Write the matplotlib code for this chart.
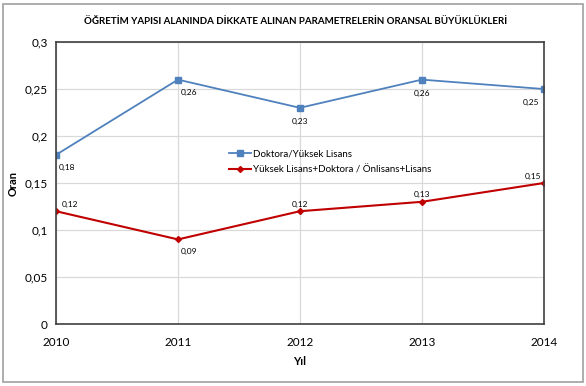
import matplotlib
matplotlib.use("Agg")
import matplotlib.pyplot as plt
from matplotlib.ticker import FuncFormatter, MultipleLocator
from matplotlib.patches import Rectangle

plt.rcParams['font.family'] = ['Lato', 'DejaVu Sans']

years = [2010, 2011, 2012, 2013, 2014]
doktora = [0.18, 0.26, 0.23, 0.26, 0.25]
yuksek = [0.12, 0.09, 0.12, 0.13, 0.15]
label_a = "Doktora/Yüksek Lisans"
label_b = "Yüksek Lisans+Doktora / Önlisans+Lisans"
title = "ÖĞRETİM YAPISI ALANINDA DİKKATE ALINAN PARAMETRELERİN ORANSAL BÜYÜKLÜKLERİ"

fig = plt.figure(figsize=(5.86, 3.86), dpi=100)
fig.patches.append(Rectangle((0.005, 0.01), 0.99, 0.98, transform=fig.transFigure,
                             fill=False, edgecolor='#a0a0a0', linewidth=1.2))
ax = fig.add_axes([0.0956, 0.1606, 0.8324, 0.7305])

blue = '#4f81bd'
red = '#c00000'
ax.plot(years, doktora, color=blue, marker='s', markersize=4.5, linewidth=1.3, label=label_a)
ax.plot(years, yuksek, color=red, marker='D', markersize=3, linewidth=1.5, label=label_b)

ax.set_xlim(2010, 2014)
ax.set_ylim(0, 0.3)
ax.set_xticks(years)
ax.yaxis.set_major_locator(MultipleLocator(0.05))
fmt = lambda v, p: ('%g' % round(v, 2)).replace('.', ',')
ax.yaxis.set_major_formatter(FuncFormatter(fmt))
ax.grid(True, color='#d9d9d9', linewidth=0.9)
ax.set_axisbelow(True)
for s in ax.spines.values():
    s.set_color('#404040')
    s.set_linewidth(1.2)
ax.tick_params(length=0, labelsize=8.5, colors='black', pad=6)
ax.tick_params(axis='x', pad=9)

def lab(v):
    return ('%.2f' % v).replace('.', ',')

offs_a = [(2, -9, 'left'), (2, -9, 'left'), (0, -10, 'center'), (0, -10, 'center'), (-3, -10, 'right')]
offs_b = [(4, 5, 'left'), (2, -9, 'left'), (0, 5, 'center'), (0, 5, 'center'), (-2, 5, 'right')]
for x, y, (dx, dy, ha) in zip(years, doktora, offs_a):
    ax.annotate(lab(y), (x, y), xytext=(dx, dy), textcoords='offset points',
                ha=ha, va='center', fontsize=6)
for x, y, (dx, dy, ha) in zip(years, yuksek, offs_b):
    ax.annotate(lab(y), (x, y), xytext=(dx, dy), textcoords='offset points',
                ha=ha, va='center', fontsize=6)

ax.set_xlabel('Yıl', fontsize=8, fontweight='bold', labelpad=6)
ax.set_ylabel('Oran', fontsize=8, fontweight='bold', labelpad=4)
fig.text(0.505, 0.945, title, ha='center', va='center', fontsize=7, fontweight='bold')

ax.legend(loc='center left', bbox_to_anchor=(0.345, 0.575), frameon=False, fontsize=7,
          handlelength=2.2, handletextpad=0.2, labelspacing=0.65, borderpad=0)

fig.savefig('out.png', dpi=100)
